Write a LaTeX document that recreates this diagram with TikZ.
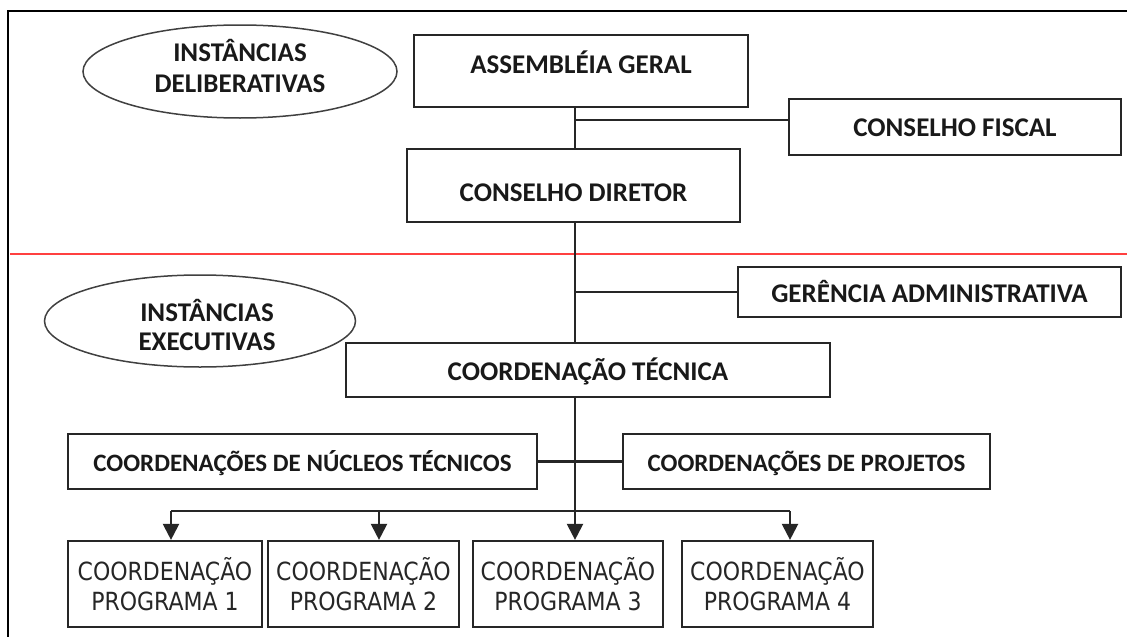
\documentclass[tikz,border=0pt]{standalone}
\usepackage{fontspec}
\setmainfont{Carlito}
\newfontfamily\tahoma[FakeStretch=0.88]{DejaVu Sans}
\usetikzlibrary{shapes.geometric,arrows.meta}
\newcommand\mytxt[2]{\raisebox{#1}[0pt][0pt]{#2}}
\begin{document}
\begin{tikzpicture}[x=1pt,y=-1pt,
  box/.style={draw=black!85,line width=2.2pt,rectangle,inner sep=0pt,
    font=\fontsize{27}{31}\selectfont\bfseries,text=black!90},
  smallbox/.style={box,font=\fontsize{25}{30}\selectfont\bfseries},
  prog/.style={draw=black!85,line width=2.2pt,rectangle,inner sep=0pt,
    minimum width=#1,minimum height=86pt,align=center,
    font=\tahoma\fontsize{25}{30}\selectfont,text=black!85},
  oval/.style={draw=black!75,line width=1.5pt,ellipse,inner sep=0pt,
    font=\fontsize{27}{31}\selectfont\bfseries,text=black!90},
  conn/.style={draw=black!85,line width=2.2pt},
  arr/.style={conn,-{Triangle[width=16pt,length=16pt]}}]
\useasboundingbox (0,0) rectangle (1127,637);
\fill[white] (0,0) rectangle (1127,637);
% frame
\draw[line width=2.2pt,black] (8,637) -- (8,11) -- (1127,11);
% red separator
\draw[line width=1.8pt,red!75!white] (10,254) -- (1127,254);
% ovals
\node[oval,minimum width=314pt,minimum height=93pt] (e1) at (240,71.5)
  {\mytxt{-5pt}{\begin{tabular}{@{}c@{}}INSTÂNCIAS\\DELIBERATIVAS\end{tabular}}};
\node[oval,minimum width=311pt,minimum height=92pt] (e2) at (200,321)
  {\hspace{14pt}\mytxt{-15pt}{\begin{tabular}{@{}c@{}}INSTÂNCIAS\\[-2pt]EXECUTIVAS\end{tabular}}};
% boxes
\node[box,minimum width=334pt,minimum height=72pt] (ag) at (581,71) {\mytxt{-2.5pt}{ASSEMBLÉIA GERAL}};
\node[box,minimum width=333pt,minimum height=73pt] (cd) at (573.5,185.5) {\mytxt{-16pt}{CONSELHO DIRETOR}};
\node[box,minimum width=332pt,minimum height=56pt] (cf) at (955,127) {\mytxt{-9.5pt}{CONSELHO FISCAL}};
\node[box,minimum width=383pt,minimum height=50pt] (ga) at (929.5,292) {\mytxt{-10.5pt}{GERÊNCIA ADMINISTRATIVA}};
\node[box,minimum width=484pt,minimum height=54pt] (ct) at (588,370) {\mytxt{-10.5pt}{COORDENAÇÃO TÉCNICA}};
\node[smallbox,minimum width=469pt,minimum height=55pt] (cnt) at (302.5,461.5) {\mytxt{-9.5pt}{COORDENAÇÕES DE NÚCLEOS TÉCNICOS}};
\node[smallbox,minimum width=367pt,minimum height=55pt] (cp) at (806.5,461.5) {\mytxt{-9.5pt}{COORDENAÇÕES DE PROJETOS}\hspace{13pt}};
\node[prog=194pt] (p1) at (165,584) {COORDENAÇÃO\\PROGRAMA 1};
\node[prog=191pt] (p2) at (363.5,584) {COORDENAÇÃO\\PROGRAMA 2};
\node[prog=190pt] (p3) at (568,584) {COORDENAÇÃO\\PROGRAMA 3};
\node[prog=191pt] (p4) at (777.5,584) {COORDENAÇÃO\\PROGRAMA 4};
% trunk coordinates
\coordinate (t) at (575,0);
\coordinate (j1) at (575,120);
\coordinate (b1) at (171,511);
\coordinate (b2) at (379,511);
\coordinate (b4) at (790,511);
% connectors
\draw[conn] (t |- ag.south) -- (t |- cd.north);
\draw[conn] (j1) -- (j1 -| cf.west);
\draw[conn] (t |- cd.south) -- (t |- ct.north);
\draw[conn] (t |- ga.west) -- (ga.west);
\draw[conn] (cnt.east) -- (cp.west);
\draw[arr] (t |- ct.south) -- (t |- p3.north);
\draw[conn] (b1) -- (b4);
\draw[arr] (b1) -- (b1 |- p1.north);
\draw[arr] (b2) -- (b2 |- p2.north);
\draw[arr] (b4) -- (b4 |- p4.north);
\end{tikzpicture}
\end{document}
